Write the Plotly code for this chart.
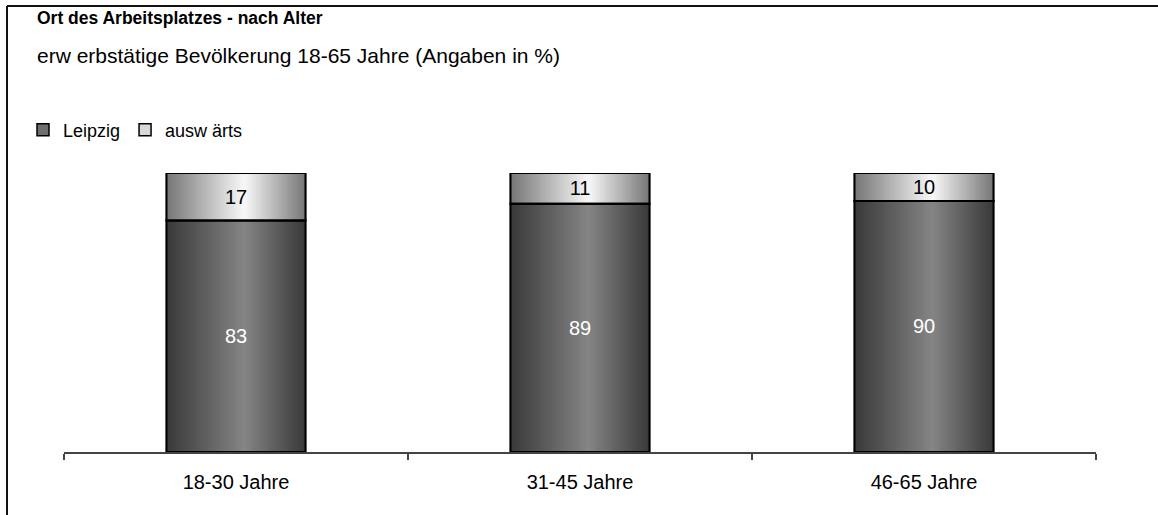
import plotly.graph_objects as go

# Data
categories = ["18-30 Jahre", "31-45 Jahre", "46-65 Jahre"]
leipzig = [83, 89, 90]
auswaerts = [17, 11, 10]
series_names = ["Leipzig", "ausw ärts"]

title_text = "Ort des Arbeitsplatzes - nach Alter"
subtitle_text = "erw erbstätige Bevölkerung 18-65 Jahre (Angaben in %)"

# Page geometry (pixels)
W, H = 1158, 515
M_L, M_R, M_T, M_B = 64, 62, 173, 63
PLOT_W = W - M_L - M_R
PLOT_H = H - M_T - M_B
FONT = "Liberation Sans, Arial, sans-serif"


def px_x(x):
    return (x - M_L) / PLOT_W


def px_y(y):
    return (H - M_B - y) / PLOT_H


def mix(c1, c2, t):
    r = [round(a + (b - a) * t) for a, b in zip(c1, c2)]
    return f"rgb({r[0]},{r[1]},{r[2]})"


BAR_W = 0.404
PEAK = 0.56          # horizontal position of the highlight inside a bar
N_LAYERS = 36

# edge colour -> highlight colour of the horizontal gradient
styles = [
    dict(edge=(58, 58, 58), center=(134, 134, 134), legend="#6e6e6e", text="white"),
    dict(edge=(120, 120, 120), center=(250, 250, 250), legend="#d8d8d8", text="black"),
]

values = [leipzig, auswaerts]
bases = [[0] * len(leipzig), leipzig]

fig = go.Figure()

for name, vals, base, st in zip(series_names, values, bases, styles):
    # legend entry / backing bar
    fig.add_trace(go.Bar(
        x=categories, y=vals, base=base, name=name,
        width=BAR_W, offset=-BAR_W / 2,
        marker=dict(color=st["legend"], line=dict(color="black", width=1.5)),
        hoverinfo="skip", showlegend=True,
    ))
    # gradient layers, narrowing toward the highlight
    for k in range(N_LAYERS):
        t = k / N_LAYERS
        a = PEAK * t
        b = 1 - (1 - PEAK) * t
        fig.add_trace(go.Bar(
            x=categories, y=vals, base=base,
            width=(b - a) * BAR_W, offset=-BAR_W / 2 + a * BAR_W,
            marker=dict(color=mix(st["edge"], st["center"], t), line=dict(width=0)),
            hoverinfo="skip", showlegend=False,
        ))

# outlines and value labels on top
for name, vals, base, st in zip(series_names, values, bases, styles):
    fig.add_trace(go.Bar(
        x=categories, y=vals, base=base,
        width=BAR_W, offset=-BAR_W / 2,
        marker=dict(color="rgba(0,0,0,0)", line=dict(color="black", width=2)),
        text=[str(v) for v in vals], textposition="inside",
        insidetextanchor="middle", constraintext="none", textangle=0,
        textfont=dict(family=FONT, size=20, color=st["text"]),
        hoverinfo="skip", showlegend=False,
    ))

fig.update_layout(
    width=W, height=H,
    margin=dict(l=M_L, r=M_R, t=M_T, b=M_B, pad=0),
    paper_bgcolor="white", plot_bgcolor="white",
    barmode="overlay",
    font=dict(family=FONT, size=18, color="black"),
    showlegend=True,
    legend=dict(
        orientation="h", x=px_x(23), y=px_y(130),
        xanchor="left", yanchor="middle",
        font=dict(family=FONT, size=18, color="black"),
        itemwidth=30, traceorder="normal",
        bgcolor="rgba(0,0,0,0)",
    ),
    xaxis=dict(
        type="category", showline=True, linecolor="#444", linewidth=2,
        ticks="outside", tickson="boundaries", ticklen=6, tickwidth=2,
        tickcolor="#444", showgrid=False, zeroline=False,
        tickfont=dict(family=FONT, size=20, color="black"),
        ticklabelstandoff=11,
    ),
    yaxis=dict(range=[0, 100], visible=False, showgrid=False, zeroline=False),
    annotations=[
        dict(text=f"<b>{title_text}</b>", xref="paper", yref="paper",
             x=px_x(35), y=px_y(18), xanchor="left", yanchor="middle",
             showarrow=False, font=dict(family=FONT, size=17.5, color="black")),
        dict(text=subtitle_text, xref="paper", yref="paper",
             x=px_x(35), y=px_y(55), xanchor="left", yanchor="middle",
             showarrow=False, font=dict(family=FONT, size=21, color="black")),
    ],
    shapes=[
        dict(type="line", xref="paper", yref="paper",
             x0=px_x(7), x1=px_x(W), y0=px_y(6), y1=px_y(6),
             line=dict(color="#111", width=2)),
        dict(type="line", xref="paper", yref="paper",
             x0=px_x(7), x1=px_x(7), y0=px_y(6), y1=px_y(H),
             line=dict(color="#111", width=2)),
    ],
)

fig.write_html("out.html")
